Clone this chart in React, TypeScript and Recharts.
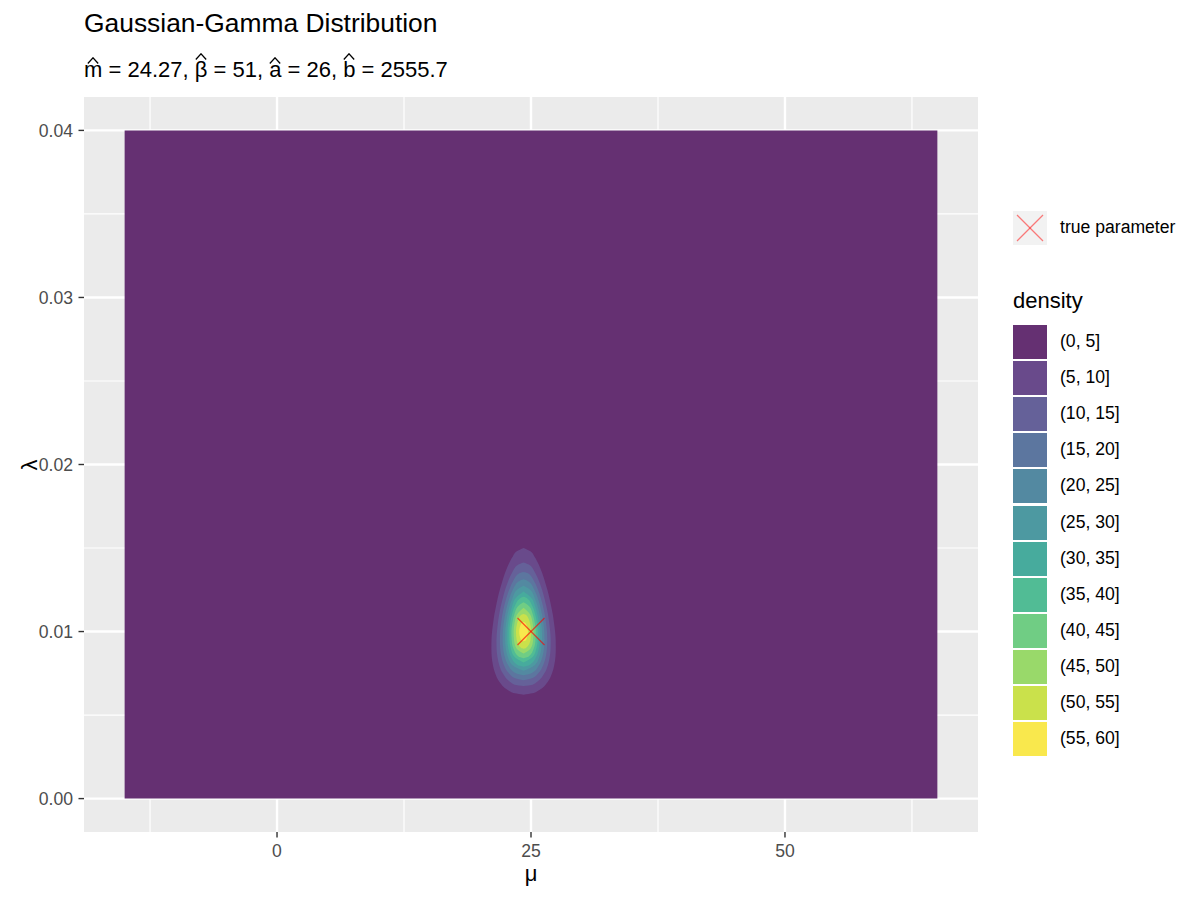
import React from 'react';
import { ComposedChart, Area, Scatter, XAxis, YAxis, CartesianGrid } from 'recharts';

const FONT = '"Liberation Sans", Arial, Helvetica, sans-serif';

// ---------- text ----------
const titleText = 'Gaussian-Gamma Distribution';
const subtitleSymbols = ['m', 'β', 'a', 'b'];
const subtitleValues = ['24.27', '51', '26', '2555.7'];
const xTitle = 'μ';
const yTitle = 'λ';
const pointLegendLabel = 'true parameter';
const fillLegendTitle = 'density';

// ---------- axes ----------
const xTicks = [0, 25, 50];
const xMinor = [-12.5, 12.5, 37.5, 62.5];
const yTicks = [0, 0.01, 0.02, 0.03, 0.04];
const yMinor = [0.005, 0.015, 0.025, 0.035];
const xDomain = [-19, 69];
const yDomain = [-0.002, 0.042];

// ---------- data ----------
const gridMu = [-15, 65];
const gridLambda = [0, 0.04];
const centerMu = 24.27;
const trueMu = [25];
const trueLambda = [0.01];

const bandLabels = ['(0, 5]', '(5, 10]', '(10, 15]', '(15, 20]', '(20, 25]', '(25, 30]', '(30, 35]', '(35, 40]', '(40, 45]', '(45, 50]', '(50, 55]', '(55, 60]'];

// contour outlines of density > level: [lambda, half-width in mu]
const contour05 = [[0.00622, 0], [0.0063, 0.86], [0.0064, 1.27], [0.0065, 1.56], [0.007, 2.39], [0.0075, 2.8], [0.008, 3.02], [0.0085, 3.14], [0.009, 3.17], [0.0095, 3.16], [0.01, 3.1], [0.0105, 3.0], [0.011, 2.88], [0.0115, 2.72], [0.012, 2.55], [0.0125, 2.34], [0.013, 2.1], [0.0135, 1.83], [0.014, 1.5], [0.0145, 1.06], [0.0148, 0.67], [0.015, 0]];
const contour10 = [[0.00674, 0], [0.0068, 0.75], [0.007, 1.34], [0.0075, 2.05], [0.008, 2.4], [0.0085, 2.58], [0.009, 2.66], [0.0095, 2.67], [0.01, 2.62], [0.0105, 2.53], [0.011, 2.41], [0.0115, 2.25], [0.012, 2.05], [0.0125, 1.82], [0.013, 1.53], [0.0135, 1.15], [0.014, 0.55], [0.01414, 0]];
const contour15 = [[0.00709, 0], [0.0072, 0.81], [0.0075, 1.44], [0.008, 1.94], [0.0085, 2.19], [0.009, 2.3], [0.0095, 2.33], [0.01, 2.3], [0.0105, 2.21], [0.011, 2.09], [0.0115, 1.92], [0.012, 1.7], [0.0125, 1.42], [0.013, 1.05], [0.0135, 0.39], [0.01357, 0]];
const contour20 = [[0.00738, 0], [0.0075, 0.76], [0.008, 1.53], [0.0085, 1.86], [0.009, 2.01], [0.0095, 2.06], [0.01, 2.04], [0.0105, 1.96], [0.011, 1.82], [0.0115, 1.64], [0.012, 1.4], [0.0125, 1.06], [0.013, 0.49], [0.01313, 0]];
const contour25 = [[0.00765, 0], [0.008, 1.12], [0.0085, 1.56], [0.009, 1.75], [0.0095, 1.82], [0.01, 1.81], [0.0105, 1.73], [0.011, 1.59], [0.0115, 1.39], [0.012, 1.1], [0.0125, 0.65], [0.01274, 0]];
const contour30 = [[0.0079, 0], [0.008, 0.6], [0.0085, 1.26], [0.009, 1.51], [0.0095, 1.6], [0.01, 1.6], [0.0105, 1.52], [0.011, 1.37], [0.0115, 1.14], [0.012, 0.79], [0.0124, 0]];
const contour35 = [[0.00815, 0], [0.0085, 0.93], [0.009, 1.26], [0.0095, 1.39], [0.01, 1.4], [0.0105, 1.32], [0.011, 1.15], [0.0115, 0.88], [0.012, 0.34], [0.01208, 0]];
const contour40 = [[0.0084, 0], [0.0085, 0.5], [0.009, 1.01], [0.0095, 1.17], [0.01, 1.2], [0.0105, 1.11], [0.011, 0.92], [0.0115, 0.57], [0.01175, 0]];
const contour45 = [[0.00868, 0], [0.009, 0.71], [0.0095, 0.94], [0.01, 0.98], [0.0105, 0.89], [0.011, 0.66], [0.01142, 0]];
const contour50 = [[0.00897, 0], [0.009, 0.21], [0.0095, 0.68], [0.01, 0.75], [0.0105, 0.63], [0.011, 0.24], [0.01105, 0]];
const contour55 = [[0.00942, 0], [0.0095, 0.25], [0.01, 0.43], [0.0105, 0.21], [0.01057, 0]];

// ---------- styles ----------
// viridis(12) at alpha 0.8 over the grey panel
const bandColors = ['#653072', '#694A8B', '#656199', '#5C769F', '#5389A1', '#4D99A1', '#47AB9D', '#51BC95', '#70CD84', '#99D96A', '#CAE14B', '#F9E84D'];

const contours = [contour05, contour10, contour15, contour20, contour25, contour30, contour35, contour40, contour45, contour50, contour55];

const bgData = gridLambda.map((lam) => ({ lam, r: [gridMu[0], gridMu[1]] }));
const contourData = contours.map((c) => c.map(([lam, hw]) => ({ lam, r: [centerMu - hw, centerMu + hw] })));
const trueData = trueMu.map((mu, i) => ({ mu, lam: trueLambda[i] }));

const XMark = (props: any) => {
  const { cx, cy } = props;
  const s = 13.5;
  return (
    <g stroke="#FF0000" strokeOpacity={0.65} strokeWidth={1.2}>
      <line x1={cx - s} y1={cy - s} x2={cx + s} y2={cy + s} />
      <line x1={cx - s} y1={cy + s} x2={cx + s} y2={cy - s} />
    </g>
  );
};

const Hat = ({ ch, tall }: { ch: string; tall: boolean }) => (
  <span style={{ position: 'relative', display: 'inline-block' }}>
    {ch}
    <svg
      width={12}
      height={7}
      style={{ position: 'absolute', left: '50%', marginLeft: -6, top: tall ? -6 : -2 }}
    >
      <polyline points="0.8,6.5 6,0.8 11.2,6.5" fill="none" stroke="#000" strokeWidth={1.3} />
    </svg>
  </span>
);

const tickStyle = { fill: '#4D4D4D', fontSize: 17.6, fontFamily: FONT };

export default function App() {
  return (
    <div style={{ position: 'absolute', left: 0, top: 0, width: 1200, height: 900, background: '#FFFFFF', fontFamily: FONT }}>
      <div style={{ position: 'absolute', left: 84, top: 9.7, fontSize: 26.4, lineHeight: '26.4px', color: '#000', whiteSpace: 'nowrap' }}>
        {titleText}
      </div>
      <div style={{ position: 'absolute', left: 84, top: 59.4, fontSize: 22, lineHeight: '22px', color: '#000', whiteSpace: 'nowrap' }}>
        {subtitleSymbols.map((s, i) => (
          <span key={i}>
            <Hat ch={s} tall={s === 'β' || s === 'b'} />
            {' = '}
            {subtitleValues[i]}
            {i < subtitleSymbols.length - 1 ? ', ' : ''}
          </span>
        ))}
      </div>

      <div style={{ position: 'absolute', left: 0, top: 0 }}>
        <ComposedChart width={1200} height={900} layout="vertical" margin={{ top: 97, right: 222, bottom: 0, left: 0 }}>
          <CartesianGrid fill="#EBEBEB" stroke="#FFFFFF" strokeWidth={1.2} horizontalValues={yMinor} verticalValues={xMinor} />
          <CartesianGrid stroke="#FFFFFF" strokeWidth={2.4} horizontalValues={yTicks} verticalValues={xTicks} />
          <XAxis
            type="number"
            domain={xDomain}
            ticks={xTicks}
            allowDataOverflow
            height={68}
            axisLine={false}
            tickLine={{ stroke: '#333333', strokeWidth: 1.4 }}
            tickSize={5.5}
            tickMargin={7.5}
            tick={tickStyle}
            interval={0}
          />
          <YAxis
            type="number"
            dataKey="lam"
            domain={yDomain}
            ticks={yTicks}
            allowDataOverflow
            reversed
            width={84}
            axisLine={false}
            tickLine={{ stroke: '#333333', strokeWidth: 1.4 }}
            tickSize={5.5}
            tickMargin={5.5}
            tick={tickStyle}
            interval={0}
            tickFormatter={(v: number) => v.toFixed(2)}
          />
          <Area
            data={bgData}
            dataKey="r"
            type="linear"
            fill={bandColors[0]}
            fillOpacity={1}
            stroke="none"
            dot={false}
            activeDot={false}
            isAnimationActive={false}
          />
          {contourData.map((d, i) => (
            <Area
              key={i}
              data={d}
              dataKey="r"
              type="monotone"
              fill={bandColors[i + 1]}
              fillOpacity={1}
              stroke="none"
              dot={false}
              activeDot={false}
              isAnimationActive={false}
            />
          ))}
          <Scatter data={trueData} dataKey="mu" shape={XMark} isAnimationActive={false} />
        </ComposedChart>
      </div>

      {/* axis titles */}
      <div style={{ position: 'absolute', left: 531, top: 874, transform: 'translate(-50%, -50%)', fontSize: 22, lineHeight: '22px', color: '#000' }}>
        {xTitle}
      </div>
      <div style={{ position: 'absolute', left: 30, top: 464.5, transform: 'translate(-50%, -50%) rotate(-90deg)', fontSize: 22, lineHeight: '22px', color: '#000' }}>
        {yTitle}
      </div>

      {/* legend: point */}
      <div style={{ position: 'absolute', left: 1013, top: 211, width: 34, height: 34, background: '#F2F2F2' }}>
        <svg width={34} height={34}>
          <g stroke="#FF0000" strokeOpacity={0.5} strokeWidth={1.2}>
            <line x1={4} y1={4} x2={30} y2={30} />
            <line x1={4} y1={30} x2={30} y2={4} />
          </g>
        </svg>
      </div>
      <div style={{ position: 'absolute', left: 1060, top: 228, transform: 'translateY(-50%)', fontSize: 17.6, lineHeight: '17.6px', color: '#000', whiteSpace: 'nowrap' }}>
        {pointLegendLabel}
      </div>

      {/* legend: density */}
      <div style={{ position: 'absolute', left: 1013, top: 290.4, fontSize: 22, lineHeight: '22px', color: '#000' }}>
        {fillLegendTitle}
      </div>
      {bandLabels.map((lab, i) => (
        <React.Fragment key={lab}>
          <div style={{ position: 'absolute', left: 1013, top: 325 + i * 36.1, width: 34, height: 34, background: bandColors[i] }} />
          <div style={{ position: 'absolute', left: 1060, top: 342 + i * 36.1, transform: 'translateY(-50%)', fontSize: 17.6, lineHeight: '17.6px', color: '#000', whiteSpace: 'nowrap' }}>
            {lab}
          </div>
        </React.Fragment>
      ))}
    </div>
  );
}
